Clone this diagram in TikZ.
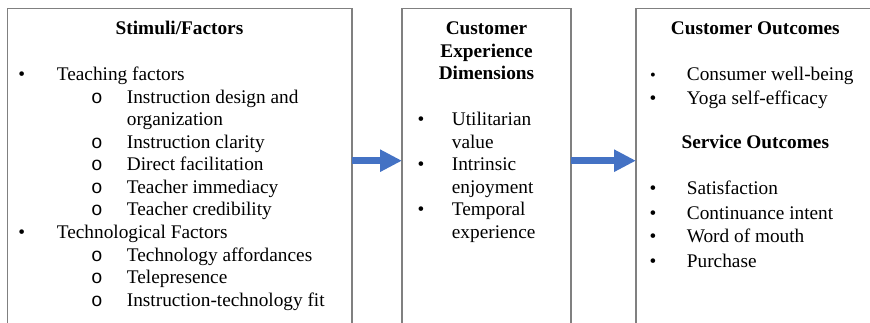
\documentclass[tikz,border=0pt]{standalone}
\usepackage{fontspec}
\setmainfont{Liberation Serif}
\newfontfamily\circfont{Liberation Mono}
\usetikzlibrary{arrows.meta}
\definecolor{framegray}{RGB}{128,128,128}
\definecolor{flowblue}{RGB}{68,114,196}
\newcommand{\bodysize}{\fontsize{19.3}{22.5}\selectfont}
\tikzset{
  panel/.style={draw=none, inner sep=0pt, outer sep=0pt},
  frame/.style={draw=framegray, line width=1.4pt},
  txt/.style={anchor=base west, inner sep=0pt, font=\bodysize},
  head/.style={anchor=base, inner sep=0pt, font=\bodysize\bfseries},
  dot/.style={anchor=base, inner sep=0pt, font=\bodysize},
  circ/.style={anchor=base, inner sep=0pt, font=\bodysize\circfont},
  flow/.style={draw=flowblue, line width=7pt,
    -{Triangle[length=22pt,width=21pt,fill=flowblue]}}
}
\begin{document}
\begin{tikzpicture}[x=1pt,y=-1pt]
\useasboundingbox (0,0) rectangle (870,323);

% three panels, open at the bottom
\node[panel, minimum width=344.5pt, minimum height=330pt, anchor=north west] (stim) at (7.5,8.5) {};
\node[panel, minimum width=169pt, minimum height=330pt, anchor=north west] (cxd) at (402,8.5) {};
\node[panel, minimum width=244pt, minimum height=330pt, anchor=north west] (outc) at (636,8.5) {};
\foreach \p in {stim,cxd,outc}
  \draw[frame] (\p.south west) -- (\p.north west) -- (\p.north east) -- (\p.south east);

% flow arrows
\coordinate (flowy) at (0,160.7);
\draw[flow] (stim.east |- flowy) -- (cxd.west |- flowy);
\draw[flow] (cxd.east |- flowy) -- (outc.west |- flowy);

% Stimuli / Factors
\node[head] (sh) at (179.5,35) {Stimuli/Factors};
\node[dot] (sb1) at (21.7,81) {•};
\node[txt] (st1) at (56.7,81) {Teaching factors};
\foreach \y/\t [count=\i] in {103.5/Instruction design and,148.5/Instruction clarity,171/Direct facilitation,193.5/Teacher immediacy,216/Teacher credibility}
  {\node[circ] (sa\i) at (97,\y) {o};
   \node[txt] (sx\i) at (126.7,\y) {\t};}
\node[txt] (sx0) at (126.7,126) {organization};
\node[dot] (sb2) at (21.7,238.5) {•};
\node[txt] (st2) at (56.7,238.5) {Technological Factors};
\foreach \y/\t [count=\i] in {261/Technology affordances,283.5/Telepresence,306/Instruction-technology fit}
  {\node[circ] (sc\i) at (97,\y) {o};
   \node[txt] (sy\i) at (126.7,\y) {\t};}

% Customer Experience Dimensions
\node[head] (ch1) at (486.5,35) {Customer};
\node[head] (ch2) at (486.5,57.5) {Experience};
\node[head] (ch3) at (486.5,80) {Dimensions};
\foreach \y/\a/\b [count=\i] in {126/Utilitarian/value,171/Intrinsic/enjoyment,216/Temporal/experience}
  {\node[dot] (cb\i) at (421,\y) {•};
   \node[txt] (ca\i) at (451.7,\y) {\a};
   \node[txt] (cc\i) at (451.7,\y+22.5) {\b};}

% Customer and Service Outcomes
\node[head] (oh1) at (755.3,35) {Customer Outcomes};
\node[dot, scale=0.85] (ob1) at (653,81) {•};
\node[txt] (ot1) at (686.7,81) {Consumer well-being};
\node[dot] (ob2) at (653,105) {•};
\node[txt] (ot2) at (686.7,105) {Yoga self-efficacy};
\node[head] (oh2) at (755.3,149) {Service Outcomes};
\foreach \y/\t [count=\i] in {195/Satisfaction,219/Continuance intent,243/Word of mouth,267/Purchase}
  {\node[dot] (ov\i) at (653,\y) {•};
   \node[txt] (ow\i) at (686.7,\y) {\t};}
\end{tikzpicture}
\end{document}
